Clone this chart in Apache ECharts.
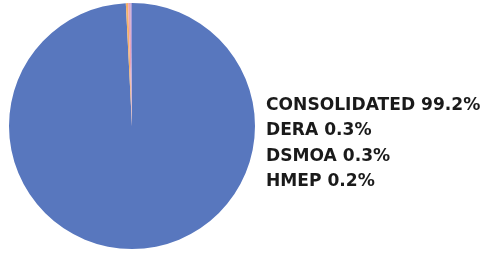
<!DOCTYPE html>
<html>
<head>
<meta charset="utf-8">
<script src="https://cdn.jsdelivr.net/npm/echarts@6/dist/echarts.min.js"></script>
<style>
  html, body { margin: 0; padding: 0; background: #fff; }
  #chart { width: 483px; height: 254px; }
</style>
</head>
<body>
<div id="chart"></div>
<script>
const names = ['CONSOLIDATED', 'DERA', 'DSMOA', 'HMEP']
const shares = [99.2, 0.3, 0.3, 0.2]
const colors = ['#5877BE', '#F4B169', '#E9A3B8', '#A79BD8']

const chart = echarts.init(document.getElementById('chart'))

const option = {
  animation: false,
  color: colors,
  legend: {
    orient: 'vertical',
    left: 261,
    top: 97,
    padding: 0,
    itemWidth: 0,
    itemHeight: 17,
    itemGap: 8.3,
    icon: 'rect',
    formatter: function (name) {
      return name + ' ' + shares[names.indexOf(name)] + '%'
    },
    textStyle: {
      fontFamily: 'DejaVu Sans',
      fontWeight: 'bold',
      fontSize: 17.1,
      color: '#1a1a1a'
    }
  },
  series: [
    {
      type: 'pie',
      center: [132, 126],
      radius: 123,
      startAngle: 90,
      clockwise: true,
      label: { show: false },
      labelLine: { show: false },
      itemStyle: { borderWidth: 0 },
      data: names.map(function (n, i) {
        return { name: n, value: shares[i] }
      })
    }
  ]
}

chart.setOption(option)
</script>
</body>
</html>
